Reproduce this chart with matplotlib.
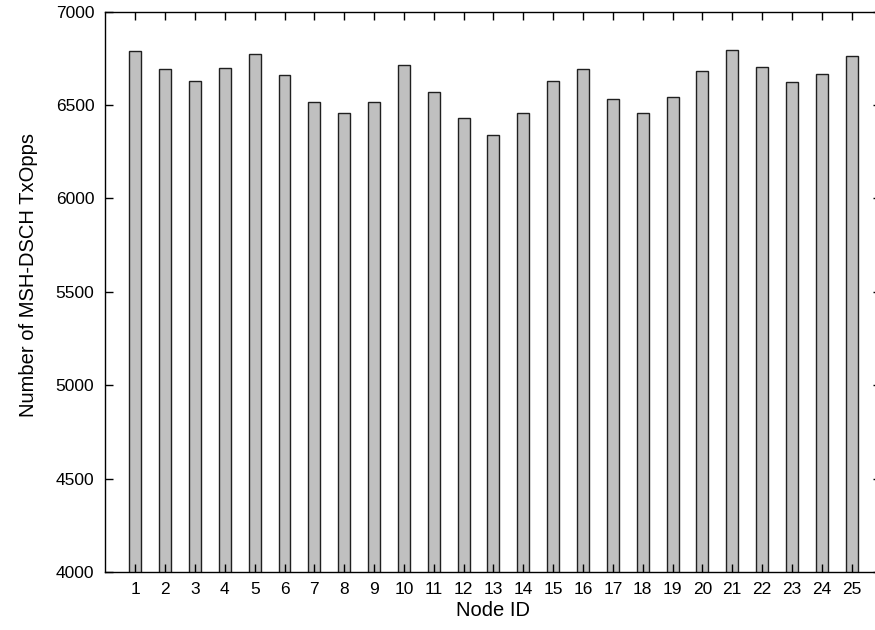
import numpy as np
import matplotlib
matplotlib.use('Agg')
import matplotlib.pyplot as plt

plt.rcParams['font.family'] = ['Liberation Sans', 'DejaVu Sans']

# %% data

node_ids = np.arange(1, 26)
txopps = [6790, 6694, 6627, 6700, 6771, 6660, 6518, 6457, 6518, 6712,
          6571, 6429, 6340, 6457, 6627, 6691, 6532, 6455, 6545, 6680,
          6794, 6702, 6621, 6668, 6760]
y_ticks = [4000, 4500, 5000, 5500, 6000, 6500, 7000]

# %% plot

fig = plt.figure(figsize=(8.75, 6.3), dpi=100)
# right border of the gnuplot frame sits just outside the picture
ax = fig.add_axes([0.1205, 0.0916, 0.8869, 0.8901])

ax.bar(node_ids, txopps, width=0.4, bottom=0, color='#c0c0c0',
       edgecolor='#202020', linewidth=1.0)

ax.set_xlim(0, 26)
ax.set_ylim(4000, 7000)
ax.set_xticks(node_ids)
ax.set_yticks(y_ticks)

ax.tick_params(direction='in', length=6, width=1, top=True, right=True,
               labelsize=12.5, colors='black')
ax.tick_params(axis='y', pad=8)
ax.tick_params(axis='x', pad=7)
for s in ax.spines.values():
    s.set_linewidth(1)
    s.set_clip_on(False)

ax.set_xlabel('Node ID', fontsize=14.5)
ax.set_ylabel('Number of MSH-DSCH TxOpps', fontsize=14.5)
ax.xaxis.set_label_coords(0.5, -0.051)
ax.yaxis.set_label_coords(-0.087, 0.53)

fig.savefig('out.png', dpi=100)
